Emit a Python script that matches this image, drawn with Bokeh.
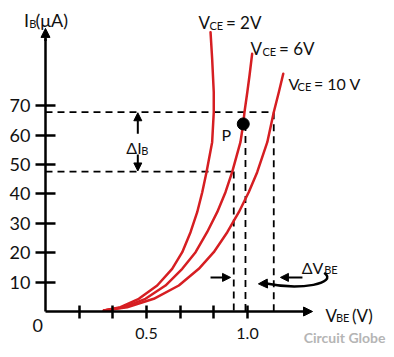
from bokeh.plotting import figure
from bokeh.models import (Range1d, LinearAxis, FixedTicker, NumeralTickFormatter,
                          Arrow, NormalHead)
from bokeh.core.properties import value
from bokeh.embed import file_html
from bokeh.resources import INLINE

# ---------------- data ----------------
vbe_2v = [0.289, 0.371, 0.462, 0.553, 0.627, 0.677, 0.718, 0.751, 0.776, 0.797,
          0.825, 0.833, 0.833, 0.825, 0.817]
ib_2v = [0.34, 1.46, 4.32, 8.84, 14.52, 20.17, 26.97, 33.78, 40.58, 47.38,
         57.59, 67.79, 74.59, 85.95, 95.0]

vbe_6v = [0.289, 0.388, 0.495, 0.594, 0.677, 0.743, 0.800, 0.850, 0.891, 0.924,
          0.965, 0.979, 0.985, 0.999, 1.010, 1.023]
ib_6v = [0.34, 1.46, 4.32, 8.84, 14.52, 20.17, 26.97, 33.78, 40.58, 47.38,
         57.59, 63.84, 67.79, 74.59, 80.27, 87.65]

vbe_10v = [0.289, 0.404, 0.536, 0.660, 0.759, 0.833, 0.900, 0.957, 1.006, 1.048,
           1.098, 1.130, 1.155, 1.177]
ib_10v = [0.34, 1.46, 4.32, 8.84, 14.52, 20.17, 26.97, 33.78, 40.58, 47.38,
          57.59, 67.79, 74.59, 80.85]

curve_values = ["= 2V", "= 6V", "= 10 V"]

ib_ticks = [10, 20, 30, 40, 50, 60, 70]
vbe_major_ticks = [0.5, 1.0]
vbe_minor_ticks = [0.167, 0.333, 0.667, 0.833]

q_vbe = 0.979
q_ib = 63.8
ib_levels = [47.6, 67.8]
vbe_levels = [0.932, 0.990, 1.130]

# ---------------- styling ----------------
FONT = value("Lato")
RED = "#D61E22"
BLACK = "#000000"

p = figure(width=386, height=349,
           x_range=Range1d(-0.22277, 1.68812), y_range=Range1d(-12.925, 105.782),
           output_backend="svg", toolbar_location=None,
           x_axis_location=None, y_axis_location=None, min_border=0)
p.outline_line_color = None
p.grid.visible = False
p.background_fill_color = "white"
p.border_fill_color = "white"

# ---------------- axes ----------------
yax = LinearAxis(fixed_location=0, ticker=FixedTicker(ticks=ib_ticks), bounds=(0, 93))
yax.axis_line_width = 2.5
yax.axis_line_color = BLACK
yax.major_tick_in = 10
yax.major_tick_out = 10
yax.major_tick_line_width = 2.5
yax.major_tick_line_color = BLACK
yax.minor_tick_line_color = None
yax.major_label_text_font = "Lato"
yax.major_label_text_font_size = "18px"
yax.major_label_text_color = "#111111"
yax.major_label_standoff = 5
p.add_layout(yax, "left")

xax = LinearAxis(fixed_location=0,
                 ticker=FixedTicker(ticks=vbe_major_ticks, minor_ticks=vbe_minor_ticks),
                 formatter=NumeralTickFormatter(format="0.0"), bounds=(0, 1.29))
xax.axis_line_width = 2.5
xax.axis_line_color = BLACK
xax.major_tick_in = 6
xax.major_tick_out = 7
xax.minor_tick_in = 6
xax.minor_tick_out = 7
xax.major_tick_line_width = 2.5
xax.minor_tick_line_width = 2.5
xax.major_tick_line_color = BLACK
xax.minor_tick_line_color = BLACK
xax.major_label_text_font = "Lato"
xax.major_label_text_font_size = "16px"
xax.major_label_text_color = "#111111"
xax.major_label_standoff = 9
p.add_layout(xax, "below")

# axis arrow heads
p.add_layout(Arrow(end=NormalHead(size=9, fill_color=BLACK, line_color=BLACK),
                   x_start=0, y_start=92, x_end=0, y_end=96.3,
                   line_width=2.5, line_color=BLACK))
p.add_layout(Arrow(end=NormalHead(size=9, fill_color=BLACK, line_color=BLACK),
                   x_start=1.28, y_start=0, x_end=1.322, y_end=0,
                   line_width=2.5, line_color=BLACK))

# ---------------- dashed guide lines ----------------
p.segment(x0=[0, 0], y0=ib_levels, x1=[vbe_levels[0], vbe_levels[2]], y1=ib_levels,
          line_color=BLACK, line_width=1.8, line_dash="7 5")
p.segment(x0=vbe_levels, y0=[ib_levels[0], q_ib, ib_levels[1]],
          x1=vbe_levels, y1=[0, 0, 0],
          line_color=BLACK, line_width=1.8, line_dash="7 5")

# ---------------- curves ----------------
for xs, ys in [(vbe_2v, ib_2v), (vbe_6v, ib_6v), (vbe_10v, ib_10v)]:
    p.line(xs, ys, line_color=RED, line_width=2.5, line_join="round", line_cap="round")

# operating point
p.scatter([q_vbe], [q_ib], size=12, color=BLACK)


def txt(x, y, s, size, align="left", color="#111111", style="normal"):
    p.text(x=[x], y=[y], text=[s], text_font=FONT, text_font_size=value(f"{size}px"),
           text_baseline="alphabetic", text_align=align, text_color=color,
           text_font_style=style)


# curve labels
label_pos = [(0.757, 98.3, 0.812, 97.4, 0.893, 17),
             (1.015, 89.5, 1.074, 88.6, 1.156, 17),
             (1.203, 77.6, 1.248, 76.7, 1.329, 16)]
for (vx, vy, sx, sy, ex, fs), val in zip(label_pos, curve_values):
    txt(vx, vy, "V", fs)
    txt(sx, sy, "CE", 11)
    txt(ex, vy, val, fs)

# y axis label
txt(-0.106, 99.0, "I", 18)
txt(-0.080, 98.1, "B", 11)
txt(-0.049, 99.0, "(μA)", 18)

# x axis label
txt(1.386, -1.4, "V", 17)
txt(1.438, -2.2, "BE", 11)
txt(1.517, -1.4, "(V)", 17)

# origin
txt(-0.064, -4.8, "0", 18)

# P
txt(0.871, 60.2, "P", 16)

# delta I_B
txt(0.400, 55.8, "ΔI", 16)
txt(0.474, 54.9, "B", 11)
p.add_layout(Arrow(end=NormalHead(size=8, fill_color=BLACK, line_color=BLACK),
                   x_start=0.457, y_start=60.5, x_end=0.457, y_end=67.6,
                   line_width=2, line_color=BLACK))
p.add_layout(Arrow(end=NormalHead(size=8, fill_color=BLACK, line_color=BLACK),
                   x_start=0.457, y_start=53.4, x_end=0.457, y_end=47.8,
                   line_width=2, line_color=BLACK))

# delta V_BE
txt(1.268, 15.0, "ΔV", 16)
txt(1.380, 14.3, "BE", 11)
p.add_layout(Arrow(end=NormalHead(size=8, fill_color=BLACK, line_color=BLACK),
                   x_start=0.817, y_start=11.6, x_end=0.916, y_end=11.6,
                   line_width=2, line_color=BLACK))
p.add_layout(Arrow(end=NormalHead(size=8, fill_color=BLACK, line_color=BLACK),
                   x_start=1.272, y_start=11.6, x_end=1.163, y_end=11.6,
                   line_width=2, line_color=BLACK))
p.bezier(x0=[1.380], y0=[13.2], x1=[1.094], y1=[9.5],
         cx0=[1.450], cy0=[9.5], cx1=[1.262], cy1=[7.1],
         line_color=BLACK, line_width=2.5)
p.add_layout(Arrow(end=NormalHead(size=9, fill_color=BLACK, line_color=BLACK),
                   x_start=1.094, y_start=9.5, x_end=1.054, y_end=9.4,
                   line_width=2.5, line_color=BLACK))

# watermark
txt(1.683, -8.8, "Circuit Globe", 14, align="right", color="#b5b5b5", style="bold")

open("out.html", "w").write(file_html(p, INLINE))
